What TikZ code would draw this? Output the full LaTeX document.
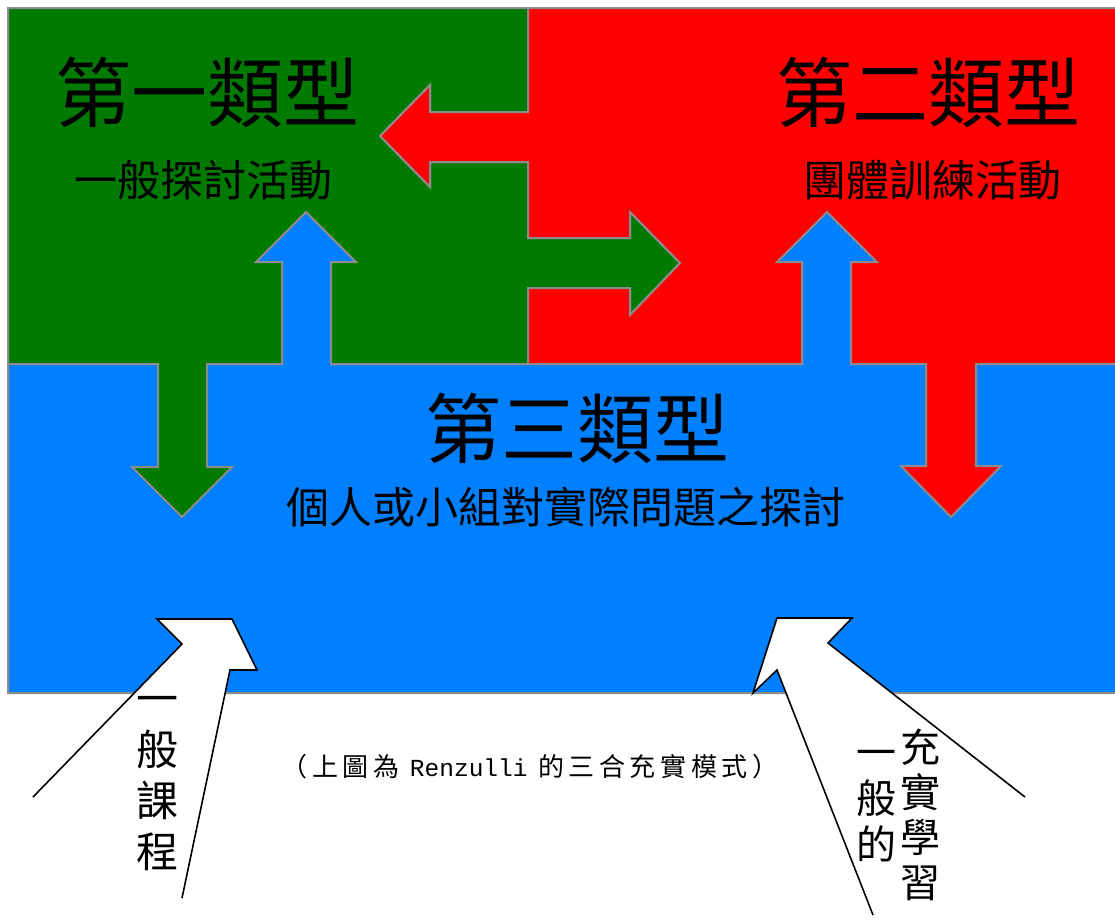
\documentclass[tikz,border=0pt]{standalone}
\usepackage{fontspec}
\setmainfont{Noto Sans CJK TC}
\newfontfamily\cjk{Noto Sans CJK TC}
\newfontfamily\latinmono{Liberation Mono}
\definecolor{tgreen}{HTML}{007A00}
\definecolor{tred}{HTML}{FF0000}
\definecolor{tblue}{HTML}{0080FF}
\definecolor{edge}{HTML}{8C8C8C}
\newcommand{\gp}{\kern4.6pt}
\begin{document}
\begin{tikzpicture}[x=1pt,y=-1pt,
  region/.style={draw=edge,line width=2pt,line join=miter},
  whitearrow/.style={draw=black,line width=1.6pt,line join=miter},
  title/.style={inner sep=0pt,font=\cjk\fontsize{76}{80}\selectfont},
  subtitle/.style={inner sep=0pt,font=\cjk\fontsize{43}{48}\selectfont},
  vtext/.style={inner sep=0pt,align=center},
  caption/.style={inner sep=0pt,font=\cjk\fontsize{26}{28}\selectfont}]
\useasboundingbox (0,0) rectangle (1115,919);
\fill[white] (0,0) rectangle (1115,919);

% blue region (type III) with its two upward arrows
\filldraw[region,fill=tblue] (8,364) -- (282,364) -- (282,262) -- (256,262) -- (306,212) -- (356,262) -- (331,262) -- (331,364)
  -- (802,364) -- (802,262) -- (777,262) -- (827,212) -- (877,262) -- (851,262) -- (851,364)
  -- (1120,364) -- (1120,693) -- (8,693) -- cycle;

% green region (type I) with arrows right and down
\filldraw[region,fill=tgreen] (8,8) -- (528,8) -- (528,112) -- (430,112) -- (430,85) -- (380,136) -- (430,187) -- (430,162)
  -- (528,162) -- (528,238) -- (630,238) -- (630,212) -- (680,263) -- (630,315) -- (630,288) -- (528,288) -- (528,364)
  -- (331,364) -- (331,262) -- (356,262) -- (306,212) -- (256,262) -- (282,262) -- (282,364)
  -- (207,364) -- (207,467) -- (232,467) -- (182,517) -- (132,467) -- (158,467) -- (158,364) -- (8,364) -- cycle;

% red region (type II) with arrows left and down
\filldraw[region,fill=tred] (528,8) -- (1120,8) -- (1120,364) -- (976,364) -- (976,466) -- (1001,466) -- (951,517) -- (901,466) -- (926,466) -- (926,364)
  -- (851,364) -- (851,262) -- (877,262) -- (827,212) -- (777,262) -- (802,262) -- (802,364) -- (528,364)
  -- (528,288) -- (630,288) -- (630,315) -- (680,263) -- (630,212) -- (630,238) -- (528,238) -- (528,162)
  -- (430,162) -- (430,187) -- (380,136) -- (430,85) -- (430,112) -- (528,112) -- cycle;

% white arrows from below
\fill[white] (33,797) -- (182,644) -- (157,619) -- (232,619) -- (257,670) -- (230,670) -- (182,898) -- cycle;
\draw[whitearrow] (33,797) -- (182,644) -- (157,619) -- (232,619) -- (257,670) -- (230,670) -- (182,898);
\fill[white] (873,915) -- (777,670) -- (753,693) -- (777,618) -- (852,618) -- (828,643) -- (1025,797) -- cycle;
\draw[whitearrow] (873,915) -- (777,670) -- (753,693) -- (777,618) -- (852,618) -- (828,643) -- (1025,797);

% titles
\node[title] (t1) at (207,92) {第一類型};
\node[subtitle] (s1) at (203,180) {一般探討活動};
\node[title] (t2) at (928,92) {第二類型};
\node[subtitle] (s2) at (932,180) {團體訓練活動};
\node[title] (t3) at (577,428) {第三類型};
\node[subtitle] (s3) at (566,507) {個人或小組對實際問題之探討};

% vertical labels
\node[vtext,font=\cjk\fontsize{42}{51}\selectfont] (v1) at (157,784) {一\\般\\課\\程};
\node[vtext,font=\cjk\fontsize{40}{45}\selectfont] (v2) at (920,815) {充\\實\\學\\習};
\node[vtext,font=\cjk\fontsize{40}{46}\selectfont] (v3) at (876,806) {一\\般\\的};

% caption
\node[caption] (cap) at (530,767) {（\gp 上\gp 圖\gp 為\gp\ {\latinmono\fontsize{24.5}{28}\selectfont Renzulli}\ \gp 的\gp 三\gp 合\gp 充\gp 實\gp 模\gp 式\gp ）};
\end{tikzpicture}
\end{document}
